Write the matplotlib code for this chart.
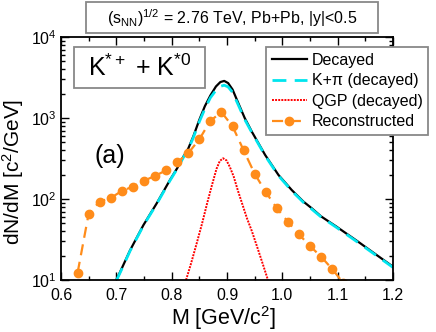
import matplotlib
matplotlib.use("Agg")
import matplotlib.pyplot as plt
from matplotlib.patches import Rectangle
from matplotlib.ticker import MultipleLocator, LogLocator, NullFormatter

plt.rcParams["font.family"] = ["Liberation Sans", "DejaVu Sans"]
plt.rcParams["mathtext.fontset"] = "custom"
plt.rcParams["mathtext.rm"] = "Liberation Sans"
plt.rcParams["mathtext.it"] = "Liberation Sans:italic"

# decayed (total)
m_dec = [0.700, 0.710, 0.725, 0.749, 0.773, 0.797, 0.810, 0.821, 0.830, 0.839,
         0.850, 0.860, 0.870, 0.880, 0.888, 0.895, 0.902, 0.910, 0.920, 0.932,
         0.945, 0.969, 0.993, 1.017, 1.038, 1.053, 1.070, 1.089, 1.098, 1.137,
         1.158, 1.200]
dec = [10, 14, 23.4, 47.7, 88.5, 172, 240, 332, 420, 589,
       950, 1400, 1900, 2450, 2780, 2870, 2700, 2250, 1550, 1000,
       675, 349, 198, 129, 93, 77, 61, 50, 45.5, 29.7,
       23.4, 14.6]

# K+pi (decayed)
kpi = [9.8, 13.7, 23, 47, 87, 169, 236, 325, 410, 570,
       900, 1300, 1780, 2200, 2460, 2540, 2420, 2080, 1470, 960,
       660, 342, 194, 126, 91, 75, 60, 49, 44.5, 29,
       22.9, 14.3]

# QGP (decayed)
m_qgp = [0.826, 0.835, 0.845, 0.855, 0.864, 0.873, 0.881, 0.887, 0.893, 0.899,
         0.905, 0.912, 0.920, 0.928, 0.936, 0.945, 0.955, 0.965, 0.974]
qgp = [10, 16, 28, 50, 88, 150, 235, 295, 318, 300,
       250, 190, 125, 85, 58, 40, 25, 15.5, 10]

# reconstructed
m_rec = [0.63, 0.65, 0.67, 0.69, 0.71, 0.73, 0.75, 0.77, 0.79, 0.81,
         0.83, 0.85, 0.87, 0.89, 0.91, 0.93, 0.95, 0.97, 0.99, 1.01,
         1.03, 1.05, 1.07, 1.09, 1.11]
rec = [12.3, 66, 93, 103, 126, 142, 168, 193, 226, 284,
       368, 546, 925, 1180, 790, 400, 205, 122, 77, 52.5,
       36.6, 26.3, 19.4, 13.7, 9.2]

fig = plt.figure(figsize=(4.36, 3.32), dpi=100)
ax = fig.add_axes([61 / 436, 1 - 280 / 332, 332 / 436, 243 / 332])

ax.plot(m_dec, dec, color="black", lw=1.6, label="Decayed")
ax.plot(m_dec, kpi, color="#00E5EE", lw=2.0, ls=(0, (5, 3)), label="K+π (decayed)")
ax.plot(m_qgp, qgp, color="red", lw=1.4, ls=(0, (1, 0.6)), label="QGP (decayed)")
ax.plot(m_rec, rec, color="#FF8C1A", lw=1.6, ls=(0, (5, 3)), marker="o", ms=6,
        label="Reconstructed")

ax.set_yscale("log")
ax.set_xlim(0.6, 1.2)
ax.set_ylim(10, 1e4)
ax.xaxis.set_major_locator(MultipleLocator(0.1))
ax.xaxis.set_minor_locator(MultipleLocator(0.05))
ax.yaxis.set_minor_locator(LogLocator(base=10, subs=range(2, 10)))
ax.yaxis.set_minor_formatter(NullFormatter())
ax.set_xticklabels([f"{v:.1f}" for v in ax.get_xticks()])
ax.tick_params(which="both", direction="in", top=True, right=True, labelsize=11.5)
ax.tick_params(which="major", length=6, width=1)
ax.tick_params(which="minor", length=3, width=1)
ax.tick_params(axis="x", pad=6)
ax.tick_params(axis="y", pad=3)
for s in ax.spines.values():
    s.set_linewidth(1.3)

ax.set_xlabel(r"M [GeV/c$^2$]", fontsize=15.5)
ax.xaxis.set_label_coords(0.49, -0.1)
ax.set_ylabel(r"dN/dM [c$^2$/GeV]", fontsize=15)
ax.yaxis.set_label_coords(-0.106, 0.445)

ax.text(0.102, 0.51, "(a)", transform=ax.transAxes, fontsize=18, ha="left", va="center")

# title box
fig.patches.append(Rectangle((86 / 436, 1 - 33 / 332), 292 / 436, 31 / 332,
                             transform=fig.transFigure, fill=False,
                             edgecolor="#888888", lw=1.3))
fig.text(232 / 436, 1 - 18 / 332, r"(s$_{\rm NN}$)$^{1/2}$ = 2.76 TeV, Pb+Pb, |y|<0.5",
         fontsize=11.5, ha="center", va="center")

# particle box
fig.patches.append(Rectangle((74 / 436, 1 - 88 / 332), 131 / 436, 41 / 332,
                             transform=fig.transFigure, fill=False,
                             edgecolor="#888888", lw=1.3))
fig.text(140 / 436, 1 - 68 / 332, r"K$^{*+}$ + K$^{*0}$", fontsize=18,
         ha="center", va="center")

leg = ax.legend(loc="upper left", bbox_to_anchor=(266 / 436, 1 - 47 / 332),
                bbox_transform=fig.transFigure, borderaxespad=0, fontsize=11.5,
                frameon=True, fancybox=False, handlelength=2.2, handletextpad=0.3,
                labelspacing=0.35, borderpad=0.35, numpoints=1)
leg.get_frame().set_edgecolor("#888888")
leg.get_frame().set_linewidth(1.3)
leg.get_frame().set_alpha(1)

fig.savefig("out.png", dpi=100)
